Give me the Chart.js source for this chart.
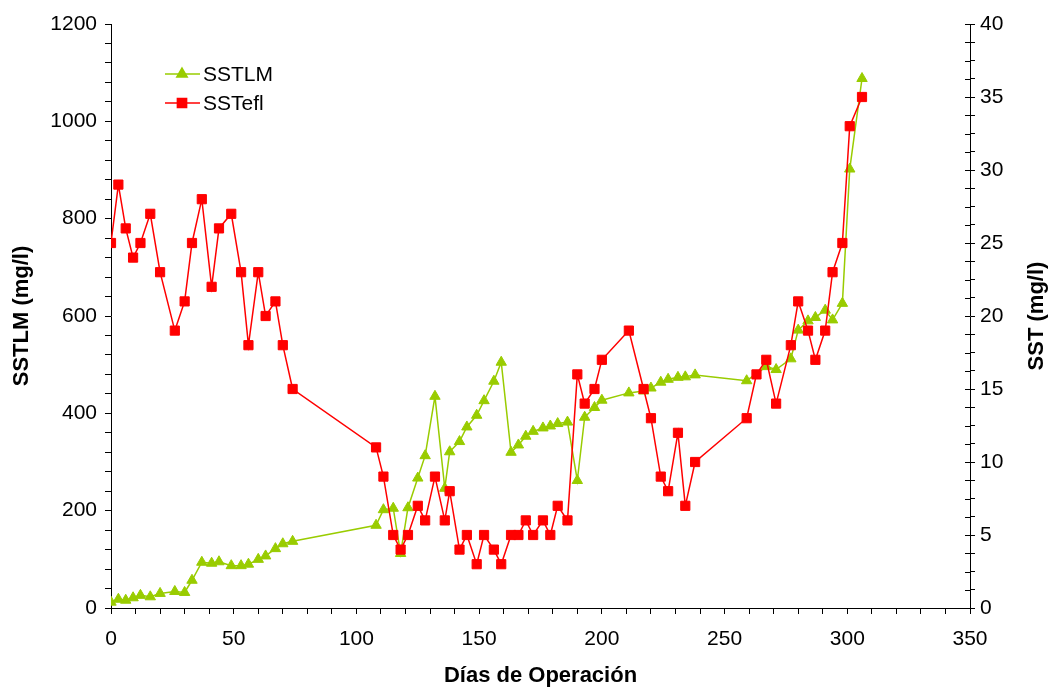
<!DOCTYPE html>
<html><head><meta charset="utf-8">
<script src="https://cdn.jsdelivr.net/npm/chart.js@4.4.1/dist/chart.umd.min.js"></script>
<style>html,body{margin:0;padding:0;background:#fff;overflow:hidden}#wrap{width:1049px;height:687px;position:relative}</style>
</head><body><div id="wrap"><canvas id="c" width="1049" height="687"></canvas></div>
<script>
// ---- data ----
const daysLM = [0,3,6,9,12,16,20,26,30,33,37,41,44,49,53,56,60,63,67,70,74,108,111,115,118,121,125,128,132,136,138,142,145,149,152,156,159,163,166,169,172,176,179,182,186,190,193,197,200,211,217,220,224,227,231,234,238,259,267,271,277,280,284,287,291,294,298,301,306];
const sstlm  = [12,18,16,21,26,23,30,34,32,57,94,92,95,87,87,90,100,107,122,132,137,170,202,205,112,206,267,313,435,246,321,342,372,396,426,466,505,320,335,353,363,370,374,379,382,262,392,412,427,442,446,452,464,470,474,475,479,467,496,490,512,571,590,597,612,592,626,902,1088];
const daysEfl = [0,3,6,9,12,16,20,26,30,33,37,41,44,49,53,56,60,63,67,70,74,108,111,115,118,121,125,128,132,136,138,142,145,149,152,156,159,163,166,169,172,176,179,182,186,190,193,197,200,211,217,220,224,227,231,234,238,259,263,267,271,277,280,284,287,291,294,298,301,306];
const sstefl  = [25,29,26,24,25,27,23,19,21,25,28,22,26,27,23,18,23,20,21,18,15,11,9,5,4,5,7,6,9,6,8,4,5,3,5,4,3,5,5,6,5,6,5,7,6,16,14,15,17,19,15,13,9,8,12,7,10,13,16,17,14,18,21,19,17,19,23,25,33,35];
const xTickLabels = [0,50,100,150,200,250,300,350];
const leftTickLabels = [0,200,400,600,800,1000,1200];
const rightTickLabels = [0,5,10,15,20,25,30,35,40];
const seriesNames = ['SSTLM','SSTefl'];
const axisTitles = {x: 'Días de Operación', y: 'SSTLM (mg/l)', y2: 'SST (mg/l)'};

const GREEN = '#99CC00', RED = '#FF0000';
const FONT = "'Liberation Sans', Arial, sans-serif";

const legendPlugin = {
  id: 'customLegend',
  afterDraw(chart) {
    const ctx = chart.ctx;
    const items = [
      {name: seriesNames[0], color: GREEN, style: 'triangle', radius: 6},
      {name: seriesNames[1], color: RED, style: 'rect', radius: 6.5}
    ];
    ctx.save();
    items.forEach((it, i) => {
      const y = 74 + i * 29;
      ctx.strokeStyle = it.color; ctx.fillStyle = it.color; ctx.lineWidth = 1.5;
      ctx.beginPath(); ctx.moveTo(165, y); ctx.lineTo(200, y); ctx.stroke();
      Chart.helpers.drawPoint(ctx, {pointStyle: it.style, radius: it.radius, borderWidth: 1, rotation: 0}, 182, y);
      ctx.fillStyle = '#000';
      ctx.font = '21px ' + FONT;
      ctx.textBaseline = 'middle'; ctx.textAlign = 'left';
      ctx.fillText(it.name, 203, y + 1);
    });
    // inner half of right-axis ticks (crossing ticks)
    const r = chart.scales.y2;
    ctx.strokeStyle = '#000'; ctx.lineWidth = 1;
    r.ticks.forEach(t => {
      const py = Math.round(r.getPixelForValue(t.value)) + 0.5;
      ctx.beginPath(); ctx.moveTo(r.left - 5, py); ctx.lineTo(r.left, py); ctx.stroke();
    });
    // right axis title, reading bottom-to-top
    const midY = (chart.chartArea.top + chart.chartArea.bottom) / 2;
    ctx.translate(1037, midY);
    ctx.rotate(-Math.PI / 2);
    ctx.fillStyle = '#000';
    ctx.font = 'bold 22px ' + FONT;
    ctx.textAlign = 'center'; ctx.textBaseline = 'middle';
    ctx.fillText(axisTitles.y2, 0, 0);
    ctx.restore();
  }
};

const tickFont = {family: FONT, size: 21};
const titleFont = {family: FONT, size: 22, weight: 'bold', lineHeight: 1};

new Chart(document.getElementById('c'), {
  type: 'line',
  data: {
    datasets: [
      {
        label: seriesNames[1], yAxisID: 'y2',
        data: daysEfl.map((d, i) => ({x: d, y: sstefl[i]})),
        borderColor: RED, backgroundColor: RED, borderWidth: 1.5,
        pointStyle: 'rect', pointRadius: 6.5, pointBorderWidth: 1,
        pointBackgroundColor: RED, pointBorderColor: RED, tension: 0
      },
      {
        label: seriesNames[0], yAxisID: 'y',
        data: daysLM.map((d, i) => ({x: d, y: sstlm[i]})),
        borderColor: GREEN, backgroundColor: GREEN, borderWidth: 1.5,
        pointStyle: 'triangle', pointRadius: 6, pointBorderWidth: 1,
        pointBackgroundColor: GREEN, pointBorderColor: GREEN, tension: 0
      }
    ]
  },
  options: {
    responsive: false, animation: false, devicePixelRatio: 1,
    layout: {padding: {top: 24, left: 0, right: 0, bottom: 0}},
    plugins: {legend: {display: false}, tooltip: {enabled: false}},
    scales: {
      x: {
        type: 'linear', min: 0, max: 350,
        afterFit(s) { s.height = 79; },
        ticks: {stepSize: 10, autoSkip: false, maxRotation: 0, color: '#000', font: tickFont, padding: 13,
          callback: v => xTickLabels.includes(v) ? String(v) : ''},
        grid: {drawOnChartArea: false, drawTicks: true, tickLength: 6, color: '#000'},
        border: {color: '#000', width: 1},
        title: {display: true, text: axisTitles.x, color: '#000', font: titleFont, padding: {top: 0, bottom: 0}}
      },
      y: {
        type: 'linear', position: 'left', min: 0, max: 1200,
        afterFit(s) { s.width = 111; },
        ticks: {stepSize: 40, autoSkip: false, color: '#000', font: tickFont, padding: 8,
          callback: v => leftTickLabels.includes(v) ? String(v) : ''},
        grid: {drawOnChartArea: false, drawTicks: true, tickLength: 6, color: '#000'},
        border: {color: '#000', width: 1},
        title: {display: true, text: axisTitles.y, color: '#000', font: titleFont, padding: {top: 11, bottom: 0}}
      },
      y2: {
        type: 'linear', position: 'right', min: 0, max: 40,
        afterFit(s) { s.width = 79; },
        ticks: {stepSize: 1.25, autoSkip: false, color: '#000', font: tickFont, padding: 5,
          callback: v => rightTickLabels.includes(v) ? String(v) : ''},
        grid: {drawOnChartArea: false, drawTicks: true, tickLength: 5, color: '#000'},
        border: {color: '#000', width: 1},
        title: {display: false}
      }
    }
  },
  plugins: [legendPlugin]
});
</script>
</body></html>
